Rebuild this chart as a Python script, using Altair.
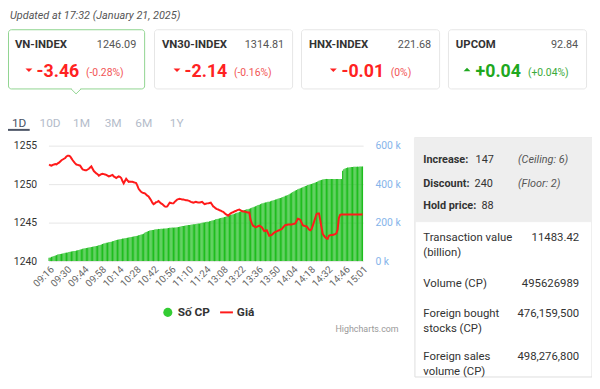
import altair as alt
import pandas as pd

# ------------------------------------------------------------------ data
updated_text = "Updated at 17:32 (January 21, 2025)"
index_names = ["VN-INDEX", "VN30-INDEX", "HNX-INDEX", "UPCOM"]
index_values = ["1246.09", "1314.81", "221.68", "92.84"]
index_changes = ["-3.46", "-2.14", "-0.01", "+0.04"]
index_pcts = ["(-0.28%)", "(-0.16%)", "(0%)", "(+0.04%)"]
index_up = [False, False, False, True]
tabs = ["1D", "10D", "1M", "3M", "6M", "1Y"]

time_segments = [("09:16", "09:58"), ("10:01", "11:30"), ("13:01", "14:46"), ("14:48", "15:01")]
tick_labels = ["09:16", "09:30", "09:44", "09:58", "10:14", "10:28", "10:42", "10:56", "11:10",
               "11:24", "13:08", "13:22", "13:36", "13:50", "14:04", "14:18", "14:32", "14:46", "15:01"]

# cumulative traded volume (thousand shares)
volume_k = [
    17, 19, 22, 24, 26, 29, 31, 34, 35, 37,
    38, 40, 41, 43, 44, 45, 47, 48, 50, 51,
    52, 53, 55, 56, 58, 60, 62, 64, 65, 67,
    68, 69, 70, 72, 73, 74, 76, 77, 79, 80,
    82, 84, 86, 89, 91, 93, 95, 96, 98, 99,
    101, 103, 105, 107, 109, 111, 112, 114, 115, 117,
    118, 119, 120, 121, 123, 124, 125, 126, 128, 129,
    130, 132, 134, 136, 138, 140, 142, 147, 151, 154,
    157, 159, 160, 161, 162, 164, 165, 166, 167, 167,
    168, 168, 169, 170, 170, 171, 172, 173, 173, 174,
    174, 175, 175, 176, 177, 179, 180, 182, 183, 184,
    185, 186, 187, 188, 189, 190, 191, 192, 193, 194,
    195, 196, 197, 199, 200, 201, 203, 204, 205, 207,
    209, 211, 212, 214, 217, 219, 220, 222, 224, 225,
    227, 229, 231, 233, 236, 238, 240, 242, 244, 246,
    248, 251, 253, 256, 258, 261, 263, 265, 267, 269,
    270, 272, 275, 277, 280, 282, 285, 288, 291, 293,
    296, 299, 301, 303, 305, 306, 308, 309, 311, 313,
    315, 318, 320, 322, 324, 326, 328, 330, 333, 336,
    339, 341, 344, 347, 351, 355, 359, 363, 367, 370,
    373, 376, 378, 381, 384, 387, 390, 392, 395, 397,
    399, 401, 403, 406, 408, 411, 414, 417, 420, 422,
    424, 426, 427, 427, 427, 427, 427, 427, 427, 427,
    427, 427, 427, 427, 427, 427, 470, 477, 481, 484,
    486, 487, 488, 489, 489, 490, 490, 491, 491, 491,
    492, 492, 492,
]

# VN-INDEX price
price_vals = [
    1252.55, 1252.45, 1252.40, 1252.50, 1252.55, 1252.60, 1252.55, 1252.70, 1252.80, 1252.95,
    1253.10, 1253.20, 1253.30, 1253.40, 1253.60, 1253.70, 1253.70, 1253.60, 1253.35, 1253.10,
    1252.90, 1252.70, 1252.55, 1252.50, 1252.45, 1252.40, 1252.15, 1251.90, 1251.85, 1251.80,
    1251.80, 1251.90, 1252.00, 1252.15, 1252.30, 1252.00, 1251.70, 1251.55, 1251.40, 1251.30,
    1251.10, 1251.20, 1251.30, 1251.35, 1251.30, 1251.25, 1251.20, 1251.10, 1251.00, 1251.05,
    1251.15, 1251.20, 1251.00, 1250.90, 1250.80, 1250.90, 1251.00, 1250.95, 1250.80, 1250.40,
    1250.10, 1250.40, 1250.70, 1250.50, 1250.30, 1250.35, 1250.30, 1250.30, 1250.25, 1250.20,
    1250.15, 1249.80, 1249.40, 1249.20, 1249.00, 1248.90, 1248.85, 1248.80, 1248.65, 1248.50,
    1248.40, 1248.15, 1247.90, 1247.60, 1247.40, 1247.50, 1247.65, 1247.70, 1247.80, 1247.65,
    1247.50, 1247.40, 1247.25, 1247.10, 1247.05, 1247.10, 1247.35, 1247.60, 1247.55, 1247.50,
    1247.50, 1247.70, 1247.85, 1248.00, 1248.05, 1248.10, 1248.05, 1248.00, 1248.00, 1247.95,
    1247.90, 1247.90, 1247.85, 1247.80, 1247.70, 1247.65, 1247.60, 1247.65, 1247.70, 1247.65,
    1247.60, 1247.60, 1247.65, 1247.70, 1247.55, 1247.40, 1247.45, 1247.50, 1247.50, 1247.55,
    1247.60, 1247.35, 1247.10, 1247.00, 1246.85, 1246.75, 1246.70, 1246.60, 1246.55, 1246.45,
    1246.40, 1246.25, 1246.10, 1246.00, 1245.90, 1246.05, 1246.20, 1246.30, 1246.35, 1246.45,
    1246.50, 1246.60, 1246.65, 1246.70, 1246.60, 1246.50, 1246.45, 1246.45, 1246.40, 1246.35,
    1246.30, 1246.30, 1245.35, 1244.90, 1244.60, 1244.50, 1244.40, 1244.45, 1244.55, 1244.60,
    1244.50, 1244.40, 1244.15, 1243.90, 1243.95, 1244.00, 1243.65, 1243.30, 1243.35, 1243.40,
    1243.55, 1243.70, 1243.80, 1243.85, 1243.95, 1244.00, 1244.10, 1244.15, 1244.35, 1244.55,
    1244.70, 1244.70, 1244.75, 1244.75, 1244.75, 1244.75, 1244.80, 1244.85, 1244.90, 1245.20,
    1245.50, 1245.45, 1245.35, 1245.00, 1244.65, 1244.60, 1244.55, 1244.50, 1244.30, 1244.10,
    1244.00, 1244.15, 1244.60, 1245.10, 1245.60, 1246.10, 1246.20, 1246.20, 1245.35, 1244.40,
    1243.55, 1243.30, 1243.10, 1242.95, 1242.90, 1243.30, 1243.35, 1243.40, 1243.40, 1243.45,
    1243.50, 1243.60, 1244.10, 1245.60, 1246.00, 1246.05, 1246.05, 1246.05, 1246.05, 1246.05,
    1246.05, 1246.05, 1246.05, 1246.05, 1246.05, 1246.05, 1246.05, 1246.05, 1246.05, 1246.05,
    1246.05, 1246.05, 1246.09,
]

legend_labels = ["Số CP", "Giá"]
stats_top = [("Increase:", "147", "(Ceiling: 6)"),
             ("Discount:", "240", "(Floor: 2)"),
             ("Hold price:", "88", "")]
stats_rows = [(["Transaction value", "(billion)"], "11483.42"),
              (["Volume (CP)"], "495626989"),
              (["Foreign bought", "stocks (CP)"], "476,159,500"),
              (["Foreign sales", "volume (CP)"], "498,276,800")]
credit = "Highcharts.com"


def expand_minutes(start, end):
    h0, m0 = map(int, start.split(":"))
    h1, m1 = map(int, end.split(":"))
    return [f"{t // 60:02d}:{t % 60:02d}" for t in range(h0 * 60 + m0, h1 * 60 + m1 + 1)]


times = [t for a, b in time_segments for t in expand_minutes(a, b)]
assert len(times) == len(volume_k) == len(price_vals), (len(times), len(volume_k), len(price_vals))
df = pd.DataFrame({"time": times, "vol": volume_k, "price": price_vals})

# ------------------------------------------------------------------ layout
W, H = 319, 117           # plot area
OX, OY = 49, 145          # plot origin on the page
RED, RED_L = "#ff2222", "#f25555"
GREEN, GREEN_L = "#1fa81f", "#3aaa3a"
BAR_GREEN = "#1ebd1e"
PF = "Roboto"

xenc = alt.X("time:N", sort=times,
             scale=alt.Scale(paddingInner=0.1, paddingOuter=0.05),
             axis=alt.Axis(values=tick_labels, labelAngle=-45, labelOverlap=False, ticks=False,
                           domain=False, grid=False, labelFontSize=10, labelColor="#666666",
                           labelFont="Roboto", labelPadding=3, title=None))

bars = alt.Chart(df).mark_bar(color=BAR_GREEN).encode(
    x=xenc,
    y=alt.Y("vol:Q", scale=alt.Scale(domain=[0, 600], nice=False),
            axis=alt.Axis(orient="right", values=[0, 200, 400, 600], labelExpr="datum.value + ' k'",
                          grid=False, domain=False, ticks=False, labelPadding=12,
                          labelColor="#86b4ea", labelFontSize=10.5, labelFont="Roboto", title=None)),
)
line = alt.Chart(df).mark_line(color="#ff1a1a", strokeWidth=2).encode(
    x=xenc,
    y=alt.Y("price:Q", scale=alt.Scale(domain=[1240, 1255], nice=False, zero=False),
            axis=alt.Axis(orient="left", values=[1240, 1245, 1250, 1255], format="d", grid=True,
                          gridColor="#e6e6e6", domain=False, ticks=False, labelPadding=12,
                          labelColor="#333333", labelFontSize=10.5, labelFont="Roboto", title=None)),
)

PX = lambda v: alt.X(v, scale=None, axis=None)
PY = lambda v: alt.Y(v, scale=None, axis=None)

# ---- rectangles
card_L = [7, 156, 305, 454]
card_R = [147, 297, 446, 595]
card_rows = []
for i in range(4):
    card_rows.append(dict(x=max(card_L[i], 8) + 0.5 - OX, x2=card_R[i] - 0.5 - OX, y=27.5 - OY, y2=87.5 - OY,
                          fill="#ffffff", stroke="#8fd48f" if i == 0 else "#e6e6e6"))
cards = alt.Chart(pd.DataFrame(card_rows)).mark_rect(cornerRadius=3, strokeWidth=1).encode(
    x=PX("x:Q"), x2="x2:Q", y=PY("y:Q"), y2="y2:Q",
    fill=alt.Fill("fill:N", scale=None), stroke=alt.Stroke("stroke:N", scale=None))

panel_rows = [dict(x=420.5 - OX, x2=600 - OX, y=137 - OY, y2=379.5 - OY, fill="#ffffff", stroke="#dddddd"),
              dict(x=420 - OX, x2=600 - OX, y=137 - OY, y2=222 - OY, fill="#eeeeee", stroke="#eeeeee")]
panel = alt.Chart(pd.DataFrame(panel_rows)).mark_rect(strokeWidth=1).encode(
    x=PX("x:Q"), x2="x2:Q", y=PY("y:Q"), y2="y2:Q",
    fill=alt.Fill("fill:N", scale=None), stroke=alt.Stroke("stroke:N", scale=None))

# ---- rules
rule_rows = [
    dict(x=8, x2=30, y=129, y2=129, color="#4d5566", w=2),
    dict(x=223, x2=236, y=314, y2=314, color="#ff1a1a", w=2),
    dict(x=72.5, x2=81.5, y=87.5, y2=87.5, color="#ffffff", w=2),
    dict(x=72, x2=77, y=87.5, y2=92.5, color="#8fd48f", w=1),
    dict(x=77, x2=82, y=92.5, y2=87.5, color="#8fd48f", w=1),
]
for r in rule_rows:
    r["x"] -= OX; r["x2"] -= OX; r["y"] -= OY; r["y2"] -= OY
rules = alt.Chart(pd.DataFrame(rule_rows)).mark_rule().encode(
    x=PX("x:Q"), x2="x2:Q", y=PY("y:Q"), y2="y2:Q",
    color=alt.Color("color:N", scale=None), strokeWidth=alt.StrokeWidth("w:Q", scale=None))

# ---- triangles & legend dot
tri_x = [29.2, 179.3, 337.8, 473.3]
down_rows = [dict(x=tri_x[i] - OX, y=68.5 - OY, c=RED) for i in range(4) if not index_up[i]]
up_rows = [dict(x=tri_x[i] - OX, y=67.8 - OY, c=GREEN) for i in range(4) if index_up[i]]
tri_down = alt.Chart(pd.DataFrame(down_rows)).mark_point(
    shape="M-1,-0.5L1,-0.5L0,0.5Z", filled=True, size=49, opacity=1, strokeWidth=0).encode(
    x=PX("x:Q"), y=PY("y:Q"), fill=alt.Fill("c:N", scale=None))
tri_up = alt.Chart(pd.DataFrame(up_rows)).mark_point(
    shape="M-1,0.5L1,0.5L0,-0.5Z", filled=True, size=49, opacity=1, strokeWidth=0).encode(
    x=PX("x:Q"), y=PY("y:Q"), fill=alt.Fill("c:N", scale=None))
dot = alt.Chart(pd.DataFrame([dict(x=170 - OX, y=314 - OY)])).mark_point(
    shape="circle", filled=True, size=85, opacity=1, color="#33cc33").encode(x=PX("x:Q"), y=PY("y:Q"))

# ---- texts
texts = []


def T(x, y, s, size, color, font="Roboto", weight="normal", style="normal", align="left"):
    texts.append(dict(x=x - OX, y=y - OY, text=s, size=size, color=color, font=font,
                      weight=weight, fstyle=style, align=align))


T(10, 17, updated_text, 11, "#555555", style="italic")
big_x = [37, 187, 346, 482]
pct_x = [87, 237, 396, 535]
for i in range(4):
    T(card_L[i] + 8, 46, index_names[i], 11.5, "#333333", weight="bold")
    T(card_R[i] - 9, 46, index_values[i], 11, "#555555", align="right")
    T(big_x[i], 75, index_changes[i], 18, GREEN if index_up[i] else RED, weight="bold")
    T(pct_x[i], 74, index_pcts[i], 10.5, GREEN_L if index_up[i] else RED_L)

tab_x = [12, 40, 74, 106, 137, 172]
for i, t in enumerate(tabs):
    T(tab_x[i], 126, t, 12, "#4a5466" if i == 0 else "#b4bcca")

T(180, 318, legend_labels[0], 12, "#333333", weight="bold")
T(240, 318, legend_labels[1], 12, "#333333", weight="bold")
T(404, 334, credit, 9, "#999999", align="right")

top_y = [163, 187, 209]
num_x = [482, 481, 488]
for i, (lab, num, note) in enumerate(stats_top):
    T(429, top_y[i], lab, 11, "#333333", font=PF, weight="bold")
    T(num_x[i], top_y[i], num, 11, "#333333", font=PF)
    if note:
        T(525, top_y[i], note, 11, "#555555", font=PF, style="italic")

row_y = [242, 288, 319, 362]
for i, (labs, val) in enumerate(stats_rows):
    for j, lab in enumerate(labs):
        T(429, row_y[i] + 15 * j, lab, 11.5, "#333333", font=PF)
    T(587, row_y[i], val, 11.5, "#333333", font=PF, align="right")

tdf = pd.DataFrame(texts)
text_layers = []
for (font, weight, fstyle, align), g in tdf.groupby(["font", "weight", "fstyle", "align"]):
    text_layers.append(
        alt.Chart(g.reset_index(drop=True)).mark_text(
            font=str(font), fontWeight=str(weight), fontStyle=str(fstyle), align=str(align),
            baseline="alphabetic").encode(
            x=PX("x:Q"), y=PY("y:Q"), text="text:N",
            color=alt.Color("color:N", scale=None), size=alt.Size("size:Q", scale=None)))

chart = alt.layer(bars, line, cards, panel, rules, tri_down, tri_up, dot, *text_layers).resolve_scale(
    y="independent"
).properties(
    width=W, height=H,
    padding={"left": OX - 8, "top": OY - 8, "right": 592 - (OX - 8) - W, "bottom": 372 - (OY - 8) - H},
    autosize=alt.AutoSizeParams(type="none"),
    background="white",
).configure_view(stroke=None)

chart.save("out.html", embed_options={"renderer": "svg", "actions": False})
